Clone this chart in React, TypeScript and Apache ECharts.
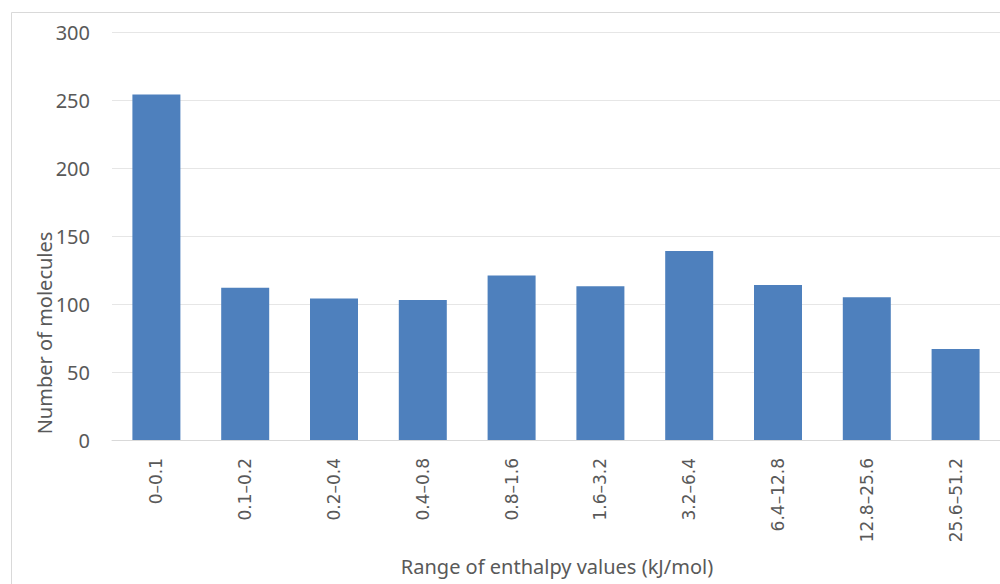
import React, { useEffect, useRef } from "react";
import * as echarts from "echarts";

const categories = ["0–0.1", "0.1–0.2", "0.2–0.4", "0.4–0.8", "0.8–1.6", "1.6–3.2", "3.2–6.4", "6.4–12.8", "12.8–25.6", "25.6–51.2"];
const counts = [254, 112, 104, 103, 121, 113, 139, 114, 105, 67];
const yTicks = { min: 0, max: 300, interval: 50 };
const xTitle = "Range of enthalpy values (kJ/mol)";
const yTitle = "Number of molecules";

export default function App() {
  const ref = useRef<HTMLDivElement>(null);
  useEffect(() => {
    const chart = echarts.init(ref.current!, undefined, { renderer: "svg" });
    chart.setOption({
      animation: false,
      backgroundColor: "#ffffff",
      grid: { left: 112, right: 0, top: 32, bottom: 144, containLabel: false },
      graphic: [
        {
          type: "rect",
          shape: { x: 11.5, y: 12.5, width: 1000, height: 600 },
          style: { fill: "none", stroke: "#d9d9d9", lineWidth: 1 },
          silent: true,
        },
        {
          type: "text",
          x: 44,
          y: 333,
          rotation: Math.PI / 2,
          style: {
            text: yTitle,
            fill: "#595959",
            font: "20px 'Noto Sans'",
            align: "center",
            verticalAlign: "middle",
          },
        },
        {
          type: "text",
          x: 557,
          y: 566,
          style: {
            text: xTitle,
            fill: "#595959",
            font: "20px 'Noto Sans'",
            align: "center",
            verticalAlign: "middle",
          },
        },
      ],
      xAxis: {
        type: "category",
        data: categories,
        boundaryGap: true,
        axisLine: { show: true, lineStyle: { color: "#d9d9d9", width: 1 } },
        axisTick: { show: false },
        axisLabel: {
          rotate: 90,
          margin: 18,
          color: "#595959",
          fontSize: 17,
          fontFamily: "DejaVu Sans",
          interval: 0,
        },
      },
      yAxis: {
        type: "value",
        min: yTicks.min,
        max: yTicks.max,
        interval: yTicks.interval,
        axisLine: { show: false },
        axisTick: { show: false },
        splitLine: { lineStyle: { color: "#e6e6e6", width: 1 } },
        axisLabel: {
          margin: 22,
          color: "#595959",
          fontSize: 20,
          fontFamily: "Noto Sans",
        },
      },
      series: [
        {
          type: "bar",
          data: counts,
          barWidth: 48,
          itemStyle: { color: "#4e80bd" },
        },
      ],
    });
    return () => chart.dispose();
  }, []);
  return (
    <div
      ref={ref}
      style={{ position: "fixed", left: 0, top: 0, width: 1000, height: 584 }}
    />
  );
}
